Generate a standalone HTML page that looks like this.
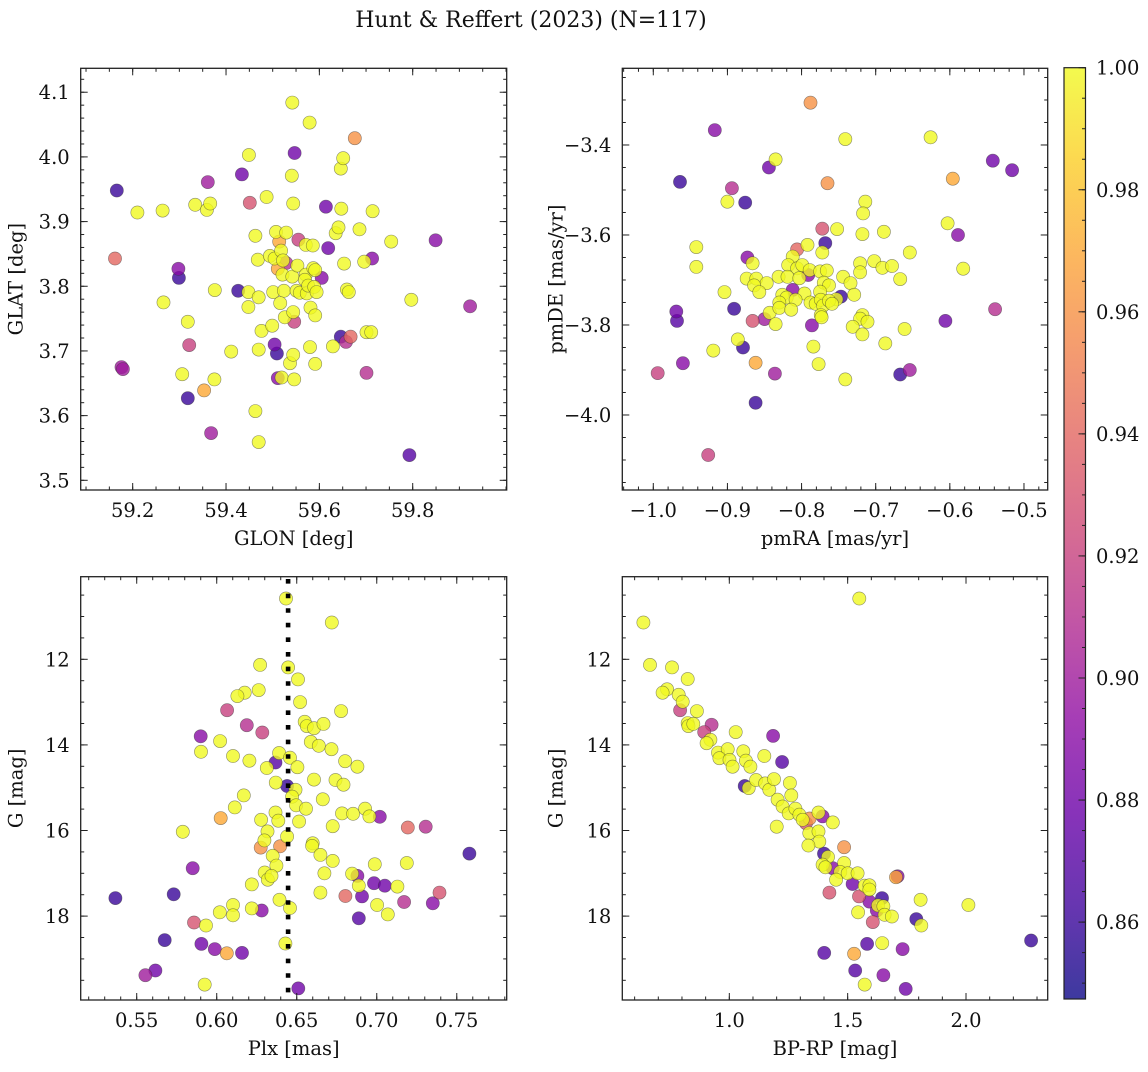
<!DOCTYPE html>
<html><head><meta charset="utf-8"><style>
html,body{margin:0;padding:0;background:#fff;}
svg text{font-family:"DejaVu Serif","Liberation Serif",serif;fill:#111;}
</style></head><body>
<svg id="fig" width="1148" height="1067" viewBox="0 0 1148 1067" xmlns="http://www.w3.org/2000/svg">
<defs>
<linearGradient id="plasmaGrad" x1="0" y1="1" x2="0" y2="0">
<stop offset="0" stop-color="#0d0887"/><stop offset="0.1" stop-color="#41049d"/><stop offset="0.2" stop-color="#6a00a8"/><stop offset="0.3" stop-color="#8f0da4"/><stop offset="0.4" stop-color="#b12a90"/><stop offset="0.5" stop-color="#cc4778"/><stop offset="0.6" stop-color="#e16462"/><stop offset="0.7" stop-color="#f2844b"/><stop offset="0.8" stop-color="#fca636"/><stop offset="0.9" stop-color="#fcce25"/><stop offset="1" stop-color="#f0f921"/>
</linearGradient>
</defs>
<text x="531" y="27" font-size="22" text-anchor="middle">Hunt &amp; Reffert (2023) (N=117)</text>
</svg>
<script>
// ---- Panel 1: GLON / GLAT ----
const glon=[59.166,59.162,59.176,59.179,59.210,59.264,59.266,59.298,59.299,59.306,59.318,59.318,59.321,59.334,59.359,59.366,59.361,59.353,59.368,59.376,59.375,59.434,59.426,59.411,59.449,59.451,59.448,59.448,59.463,59.468,59.470,59.463,59.470,59.476,59.470,59.487,59.494,59.499,59.501,59.504,59.507,59.504,59.509,59.511,59.519,59.514,59.511,59.518,59.522,59.529,59.521,59.524,59.516,59.529,59.526,59.537,59.542,59.541,59.544,59.547,59.542,59.544,59.546,59.544,59.546,59.551,59.553,59.555,59.558,59.571,59.586,59.571,59.569,59.573,59.576,59.587,59.591,59.589,59.594,59.581,59.591,59.580,59.591,59.579,59.605,59.614,59.619,59.629,59.635,59.641,59.646,59.651,59.647,59.653,59.659,59.663,59.646,59.657,59.667,59.676,59.686,59.696,59.701,59.711,59.713,59.714,59.701,59.754,59.797,59.793,59.849,59.923];
const glat=[3.948,3.843,3.675,3.672,3.914,3.917,3.775,3.827,3.813,3.664,3.745,3.627,3.709,3.926,3.918,3.928,3.961,3.639,3.573,3.794,3.656,3.973,3.793,3.699,4.003,3.929,3.791,3.768,3.878,3.841,3.783,3.607,3.559,3.731,3.702,3.938,3.847,3.739,3.791,3.843,3.884,3.710,3.696,3.658,3.659,3.869,3.827,3.855,3.840,3.836,3.818,3.793,3.774,3.883,3.752,3.681,4.084,3.971,3.928,4.006,3.815,3.694,3.656,3.760,3.745,3.793,3.832,3.872,3.790,3.864,3.863,3.818,3.810,3.789,3.801,3.828,3.825,3.799,3.791,3.767,3.755,3.706,3.680,4.053,3.813,3.923,3.859,3.707,3.882,3.891,3.982,3.998,3.920,3.835,3.795,3.791,3.722,3.714,3.722,4.029,3.888,3.838,3.729,3.729,3.843,3.916,3.666,3.869,3.779,3.539,3.871,3.769];
const prob1=[0.86,0.94,0.90,0.90,1,1,1,0.89,0.86,1,1,0.86,0.92,1,1,1,0.90,0.97,0.90,1,1,0.88,0.86,1,1,0.93,1,1,1,1,1,1,1,1,1,1,1,1,1,1,1,0.88,0.86,0.89,1,0.97,0.97,1,1,0.91,1,1,1,1,1,1,1,1,1,0.88,1,1,1,1,0.92,1,1,0.92,1,1,1,1,1,1,1,1,1,1,1,1,1,1,1,1,0.89,0.88,0.88,1,1,1,1,1,1,1,1,1,0.86,0.91,0.94,0.96,1,1,1,1,0.89,1,0.91,1,1,0.87,0.89,0.90];

// ---- Panel 2: pmRA / pmDE ----
const pmra=[-0.788,-0.917,-0.741,-0.626,-0.542,-0.516,-0.835,-0.844,-0.964,-0.765,-0.596,-0.894,-0.900,-0.876,-0.714,-0.717,-0.752,-0.772,-0.718,-0.689,-0.603,-0.589,-0.942,-0.942,-0.792,-0.768,-0.806,-0.772,-0.812,-0.654,-0.873,-0.866,-0.721,-0.721,-0.702,-0.691,-0.678,-0.582,-0.818,-0.806,-0.799,-0.789,-0.791,-0.831,-0.819,-0.803,-0.775,-0.766,-0.874,-0.861,-0.847,-0.864,-0.857,-0.744,-0.734,-0.667,-0.770,-0.763,-0.775,-0.812,-0.796,-0.904,-0.826,-0.820,-0.808,-0.747,-0.729,-0.753,-0.830,-0.788,-0.781,-0.774,-0.771,-0.763,-0.759,-0.843,-0.830,-0.814,-0.969,-0.968,-0.891,-0.774,-0.773,-0.718,-0.721,-0.711,-0.866,-0.850,-0.835,-0.786,-0.731,-0.718,-0.661,-0.606,-0.539,-0.886,-0.879,-0.919,-0.784,-0.687,-0.960,-0.862,-0.777,-0.994,-0.836,-0.741,-0.667,-0.654,-0.862,-0.926];
const pmde=[-3.306,-3.367,-3.387,-3.383,-3.435,-3.456,-3.432,-3.450,-3.482,-3.485,-3.475,-3.496,-3.526,-3.528,-3.526,-3.552,-3.587,-3.586,-3.598,-3.593,-3.574,-3.600,-3.627,-3.671,-3.622,-3.618,-3.632,-3.639,-3.648,-3.639,-3.650,-3.663,-3.663,-3.683,-3.658,-3.673,-3.669,-3.675,-3.667,-3.674,-3.667,-3.678,-3.689,-3.693,-3.693,-3.696,-3.681,-3.679,-3.697,-3.697,-3.707,-3.712,-3.727,-3.693,-3.707,-3.698,-3.706,-3.712,-3.726,-3.722,-3.730,-3.727,-3.733,-3.739,-3.744,-3.737,-3.733,-3.743,-3.750,-3.750,-3.753,-3.744,-3.757,-3.746,-3.753,-3.773,-3.762,-3.766,-3.770,-3.791,-3.764,-3.778,-3.783,-3.778,-3.786,-3.793,-3.791,-3.787,-3.798,-3.801,-3.804,-3.821,-3.809,-3.791,-3.765,-3.832,-3.850,-3.857,-3.848,-3.841,-3.885,-3.884,-3.887,-3.907,-3.908,-3.921,-3.910,-3.900,-3.973,-4.089];
const prob2=[0.96,0.89,1,1,0.88,0.88,1,0.88,0.86,0.96,0.97,0.91,1,0.86,1,1,1,0.93,1,1,1,0.89,1,1,1,0.86,0.94,1,1,1,0.89,1,1,1,1,1,1,1,1,1,1,1,0.89,1,1,1,1,1,1,1,1,1,1,1,1,1,1,1,1,0.89,1,1,1,1,1,0.86,1,1,1,1,1,1,1,1,1,1,1,1,0.88,0.87,0.86,1,1,1,1,1,0.93,0.90,1,0.89,1,1,1,0.88,0.91,1,0.86,1,1,1,0.89,0.97,1,0.92,0.90,1,0.86,0.90,0.86,0.92];

// ---- Panel 3: Plx / G ----
const plx=[0.6433,0.6719,0.6271,0.6446,0.6508,0.6262,0.6175,0.6129,0.6521,0.6777,0.6065,0.6550,0.6563,0.6608,0.6667,0.6188,0.6285,0.5900,0.6021,0.6588,0.6638,0.6717,0.5902,0.6102,0.6390,0.6458,0.6204,0.6367,0.6313,0.6504,0.6802,0.6879,0.6608,0.6369,0.6440,0.6742,0.6792,0.6492,0.6471,0.6169,0.6663,0.6113,0.6496,0.6558,0.6367,0.6385,0.6277,0.6515,0.6783,0.6852,0.6927,0.6954,0.7019,0.6025,0.5788,0.6317,0.6725,0.7194,0.7306,0.6298,0.6275,0.6396,0.6440,0.6600,0.6596,0.6648,0.7579,0.6350,0.6373,0.5850,0.6725,0.6988,0.7188,0.6300,0.6319,0.6342,0.6673,0.6846,0.6879,0.6888,0.6983,0.7050,0.7129,0.6219,0.6648,0.5367,0.5731,0.6804,0.6908,0.7392,0.6392,0.6102,0.7171,0.7350,0.7002,0.6219,0.6458,0.6281,0.6019,0.6102,0.7069,0.6888,0.5858,0.5933,0.5675,0.6429,0.5904,0.5988,0.6063,0.6158,0.5617,0.5554,0.5925,0.6510];
const gmag3=[10.58,11.14,12.13,12.19,12.47,12.72,12.78,12.86,13.00,13.21,13.19,13.46,13.56,13.61,13.51,13.54,13.71,13.80,13.91,13.93,14.02,14.10,14.16,14.26,14.19,14.30,14.37,14.41,14.54,14.52,14.38,14.51,14.81,14.88,14.96,14.82,14.93,15.05,15.21,15.18,15.27,15.46,15.41,15.49,15.58,15.77,15.75,15.79,15.60,15.61,15.49,15.67,15.68,15.71,16.03,16.02,15.90,15.93,15.91,16.23,16.40,16.37,16.14,16.30,16.36,16.57,16.54,16.59,16.82,16.88,16.71,16.79,16.76,16.98,17.15,17.06,17.00,17.01,17.06,17.29,17.23,17.29,17.31,17.26,17.45,17.58,17.49,17.53,17.54,17.45,17.62,17.74,17.67,17.70,17.74,17.82,17.81,17.87,17.91,17.98,17.96,18.05,18.15,18.22,18.56,18.64,18.65,18.77,18.87,18.86,19.27,19.38,19.60,19.69];
const prob3=[1,1,1,1,1,1,1,1,1,1,0.92,1,1,1,1,0.91,0.92,0.89,1,1,1,1,1,1,1,1,1,0.87,1,1,1,1,1,1,0.86,1,1,1,1,1,1,1,1,1,1,1,1,1,1,1,1,1,0.89,0.97,1,1,1,0.94,0.91,1,0.96,0.96,1,1,1,1,0.86,1,1,0.89,1,1,1,1,1,1,1,1,0.89,1,0.88,0.88,1,1,1,0.86,0.86,0.94,0.88,0.93,1,1,0.91,0.89,1,1,1,0.89,1,1,1,0.87,0.93,1,0.86,1,0.88,0.89,0.97,0.88,0.88,0.90,1,0.88];

// ---- Panel 4: BP-RP / G ----
const bprp=[1.549,0.637,0.665,0.758,0.824,0.737,0.718,0.786,0.803,0.792,0.863,0.824,0.827,0.848,0.925,0.894,1.027,1.185,0.920,0.904,0.952,0.993,0.958,1.001,1.014,1.059,1.070,1.089,1.148,1.223,1.065,1.082,1.113,1.151,1.169,1.189,1.256,1.204,1.225,1.262,1.251,1.279,1.296,1.310,1.339,1.324,1.377,1.394,1.437,1.200,1.338,1.377,1.380,1.334,1.485,1.400,1.417,1.394,1.406,1.437,1.485,1.469,1.500,1.542,1.451,1.521,1.572,1.592,1.711,1.704,1.423,1.548,1.592,1.645,1.592,1.628,1.651,1.623,1.544,1.656,1.687,1.808,2.010,1.606,1.790,1.811,2.275,1.582,1.646,1.732,1.401,1.527,1.532,1.651,1.572,1.745];
const gmag4=[10.58,11.14,12.13,12.19,12.46,12.70,12.78,12.83,12.99,13.19,13.21,13.49,13.56,13.51,13.53,13.70,13.70,13.79,13.88,13.96,14.18,14.10,14.31,14.35,14.51,14.15,14.37,14.51,14.26,14.40,14.96,15.01,14.82,14.90,15.05,14.80,14.89,15.28,15.44,15.18,15.60,15.49,15.63,15.75,15.72,15.83,15.58,15.67,15.81,15.91,16.06,16.02,16.26,16.35,16.39,16.54,16.62,16.80,16.86,16.88,16.76,16.97,17.00,17.00,17.15,17.25,17.29,17.28,17.07,17.09,17.45,17.54,17.38,17.58,17.66,17.75,17.77,17.87,17.91,17.97,18.01,17.62,17.74,18.14,18.07,18.22,18.57,18.65,18.63,18.77,18.86,18.88,19.27,19.38,19.60,19.70];
const prob4=[1,1,1,1,1,1,1,1,1,0.92,1,1,1,1,0.91,0.92,1,0.89,1,1,1,1,1,1,1,1,1,1,1,0.87,0.86,1,1,1,1,1,1,1,1,1,1,1,1,1,0.96,0.93,1,0.89,1,1,1,1,1,1,0.96,0.86,1,1,1,0.89,1,1,1,1,1,0.88,1,1,0.89,0.97,0.93,0.93,1,0.86,0.89,1,1,0.89,1,1,1,1,1,0.93,0.86,1,0.86,0.87,1,0.89,0.87,0.97,0.87,0.89,1,0.88];

// ---- Ticks ----
const p1XTicks=[59.2,59.4,59.6,59.8];
const p1YTicks=[3.5,3.6,3.7,3.8,3.9,4.0,4.1];
const p2XTicks=[-1.0,-0.9,-0.8,-0.7,-0.6,-0.5];
const p2YTicks=[-4.0,-3.8,-3.6,-3.4];
const p3XTicks=[0.55,0.60,0.65,0.70,0.75];
const gYTicks=[12,14,16,18];
const p4XTicks=[1.0,1.5,2.0];
const cbTicks=[0.86,0.88,0.90,0.92,0.94,0.96,0.98,1.00];
const plxRef=[0.6446];
const cbMin=0.8474, cbMax=1.0;

const NS='http://www.w3.org/2000/svg';
const svg=document.getElementById('fig');
const FS=19.5;
function el(tag,attrs,parent){const e=document.createElementNS(NS,tag);for(const k in attrs)e.setAttribute(k,attrs[k]);(parent||svg).appendChild(e);return e;}
const stops=[[0,'#0d0887'],[0.1,'#41049d'],[0.2,'#6a00a8'],[0.3,'#8f0da4'],[0.4,'#b12a90'],[0.5,'#cc4778'],[0.6,'#e16462'],[0.7,'#f2844b'],[0.8,'#fca636'],[0.9,'#fcce25'],[1,'#f0f921']];
function hex(c){return [parseInt(c.slice(1,3),16),parseInt(c.slice(3,5),16),parseInt(c.slice(5,7),16)];}
function plasma(v){let t=(v-cbMin)/(cbMax-cbMin);t=Math.max(0,Math.min(1,t));
 for(let i=0;i<stops.length-1;i++){if(t<=stops[i+1][0]){const a=hex(stops[i][1]),b=hex(stops[i+1][1]);const f=(t-stops[i][0])/(stops[i+1][0]-stops[i][0]);return 'rgb('+a.map((x,j)=>Math.round(x+(b[j]-x)*f)).join(',')+')';}}
 return stops[stops.length-1][1];}
function fmtNum(v,d){const s=Math.abs(v).toFixed(d);return (v<0?'\u2212':'')+s;}

function panel(o){
 const g=el('g',{});
 
 
 const sx=v=>o.x0+(v-o.xd[0])/(o.xd[1]-o.xd[0])*(o.x1-o.x0);
 const sy=v=>o.y1-(v-o.yd[0])/(o.yd[1]-o.yd[0])*(o.y1-o.y0);
 const grp=el('g',{},g);
 
 
 const idx=o.xs.map((_,i)=>i).sort((a,b)=>o.cs[a]-o.cs[b]);
 idx.forEach(i=>{
  const c=el('circle',{cx:sx(o.xs[i]).toFixed(1),cy:sy(o.ys[i]).toFixed(1),r:6.6,fill:plasma(o.cs[i]),'fill-opacity':0.8,stroke:'#333','stroke-opacity':0.55,'stroke-width':0.6},grp);
  
  
 });
 if(o.extra)o.extra(g,sx,sy);
 const fr=el('rect',{x:o.x0,y:o.y0,width:o.x1-o.x0,height:o.y1-o.y0,fill:'none',stroke:'#222','stroke-width':1.3},g);
 
 
 const tk=el('g',{stroke:'#222','stroke-width':1},g);
 
 
 const lo=Math.min(...o.xd),hi=Math.max(...o.xd);
 for(let k=Math.ceil(lo/o.xm-1e-6);k*o.xm<=hi+1e-9;k++){const x=sx(k*o.xm);el('line',{x1:x,x2:x,y1:o.y1,y2:o.y1-3.5},tk);el('line',{x1:x,x2:x,y1:o.y0,y2:o.y0+3.5},tk);}
 const ylo=Math.min(...o.yd),yhi=Math.max(...o.yd);
 for(let k=Math.ceil(ylo/o.ym-1e-6);k*o.ym<=yhi+1e-9;k++){const y=sy(k*o.ym);el('line',{x1:o.x0,x2:o.x0+3.5,y1:y,y2:y},tk);el('line',{x1:o.x1,x2:o.x1-3.5,y1:y,y2:y},tk);}
 o.xt.forEach(v=>{const x=sx(v);el('line',{x1:x,x2:x,y1:o.y1,y2:o.y1-7},tk);el('line',{x1:x,x2:x,y1:o.y0,y2:o.y0+7},tk);
  const t=el('text',{x:x,y:o.y1+27,'font-size':FS,'text-anchor':'middle'},g);t.textContent=fmtNum(v,o.xdp);
  
  });
 o.yt.forEach(v=>{const y=sy(v);el('line',{x1:o.x0,x2:o.x0+7,y1:y,y2:y},tk);el('line',{x1:o.x1,x2:o.x1-7,y1:y,y2:y},tk);
  const t=el('text',{x:o.x0-11,y:y+7,'font-size':FS,'text-anchor':'end'},g);t.textContent=fmtNum(v,o.ydp);
  
  });
 const xl=el('text',{x:(o.x0+o.x1)/2,y:o.y1+55,'font-size':FS,'text-anchor':'middle'},g);xl.textContent=o.xlabel;
 
 
 const yx=o.x0-(o.x0>300?60:58),yc=(o.y0+o.y1)/2;
 const yl=el('text',{x:yx,y:yc,'font-size':FS,'text-anchor':'middle',transform:'rotate(-90 '+yx+' '+yc+')'},g);yl.textContent=o.ylabel;
 
 
}

panel({name:'glon-glat-panel',x0:80.7,x1:506.7,y0:68.3,y1:490,xd:[59.0886,60.0014],yd:[3.485,4.137],xs:glon,ys:glat,cs:prob1,xt:p1XTicks,yt:p1YTicks,xm:0.05,ym:0.02,xdp:1,ydp:1,xlabel:'GLON [deg]',ylabel:'GLAT [deg]'});
panel({name:'pm-panel',x0:622.3,x1:1047.7,y0:68.3,y1:490,xd:[-1.0418,-0.468],yd:[-4.1667,-3.2296],xs:pmra,ys:pmde,cs:prob2,xt:p2XTicks,yt:p2YTicks,xm:0.02,ym:0.05,xdp:1,ydp:1,xlabel:'pmRA [mas/yr]',ylabel:'pmDE [mas/yr]'});
panel({name:'plx-g-panel',x0:80.7,x1:506.7,y0:576.7,y1:1000,xd:[0.5150,0.7812],yd:[19.96,10.07],xs:plx,ys:gmag3,cs:prob3,xt:p3XTicks,yt:gYTicks,xm:0.01,ym:0.5,xdp:2,ydp:0,xlabel:'Plx [mas]',ylabel:'G [mag]',
 extra:(g,sx,sy)=>{plxRef.forEach(v=>{const l=el('line',{x1:sx(v),x2:sx(v),y1:579,y2:1000,stroke:'#000','stroke-width':4.6,'stroke-dasharray':'4.6 10'},g);
  
  });}});
panel({name:'cmd-panel',x0:622.3,x1:1047.7,y0:576.7,y1:1000,xd:[0.5479,2.3451],yd:[19.96,10.07],xs:bprp,ys:gmag4,cs:prob4,xt:p4XTicks,yt:gYTicks,xm:0.1,ym:0.5,xdp:1,ydp:0,xlabel:'BP-RP [mag]',ylabel:'G [mag]'});

// colorbar
const cb=el('g',{});


const cbx0=1064,cbx1=1085.5,cby0=67.7,cby1=999;
el('rect',{x:cbx0,y:cby0,width:cbx1-cbx0,height:cby1-cby0,fill:'url(#plasmaGrad)','fill-opacity':0.8},cb);
el('rect',{x:cbx0,y:cby0,width:cbx1-cbx0,height:cby1-cby0,fill:'none',stroke:'#222','stroke-width':1.2},cb);
const cy=v=>cby1-(v-cbMin)/(cbMax-cbMin)*(cby1-cby0);
for(let k=Math.ceil(cbMin/0.005-1e-6);k*0.005<=cbMax+1e-9;k++){const y=cy(k*0.005);el('line',{x1:cbx1,x2:cbx1-3.5,y1:y,y2:y,stroke:'#222'},cb);}
cbTicks.forEach(v=>{const y=cy(v);el('line',{x1:cbx1,x2:cbx1-7,y1:y,y2:y,stroke:'#222'},cb);
 const t=el('text',{x:1096,y:y+7,'font-size':FS},cb);t.textContent=v.toFixed(2);
 
 });
</script>
</body></html>
